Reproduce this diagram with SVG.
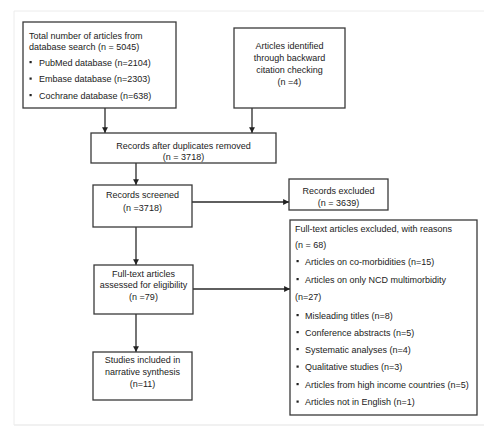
<svg xmlns="http://www.w3.org/2000/svg" width="500" height="437" viewBox="0 0 500 437">
<style>
.box{fill:#fff;stroke:#3a3a3a;stroke-width:1.3}
text{font-family:"Liberation Sans",Arial,sans-serif;font-size:9px;fill:#222}
.c{text-anchor:middle}
.ln{stroke:#2a2a2a;stroke-width:1.3;fill:none}
.b{fill:#222}
</style>
<defs>
<marker id="ar" viewBox="0 0 6 6" refX="6" refY="3" markerWidth="4.5" markerHeight="4.5" orient="auto">
<path d="M0,0 L6,3 L0,6 z" fill="#222"/>
</marker>
</defs>
<rect x="0" y="0" width="500" height="437" fill="#fff"/>
<path d="M14,425 L14,11 L484,11" fill="none" stroke="#ececec" stroke-width="1"/>
<path d="M14,425 L484,425" fill="none" stroke="#ececec" stroke-width="1.5"/>
<g id="connectors">
<line class="ln" x1="105" y1="108" x2="105" y2="133" marker-end="url(#ar)"/>
<line class="ln" x1="252" y1="108" x2="252" y2="133" marker-end="url(#ar)"/>
<line class="ln" x1="136" y1="163" x2="136" y2="185" marker-end="url(#ar)"/>
<line class="ln" x1="192" y1="202" x2="289" y2="202" marker-end="url(#ar)"/>
<line class="ln" x1="136" y1="227" x2="136" y2="265" marker-end="url(#ar)"/>
<line class="ln" x1="193" y1="289" x2="290" y2="289" marker-end="url(#ar)"/>
<line class="ln" x1="136" y1="314" x2="136" y2="352" marker-end="url(#ar)"/>
</g>
<g id="n1">
<rect class="box" x="23" y="22" width="153" height="86"/>
<text x="29" y="38.5">Total number of articles from</text>
<text x="29" y="50">database search (n = 5045)</text>
<rect class="b" x="29.5" y="61" width="2.2" height="2.2"/>
<text x="39" y="65.5">PubMed database (n=2104)</text>
<rect class="b" x="29.5" y="77.5" width="2.2" height="2.2"/>
<text x="39" y="82">Embase database (n=2303)</text>
<rect class="b" x="29.5" y="94" width="2.2" height="2.2"/>
<text x="39" y="98.5">Cochrane database (n=638)</text>
</g>
<g id="n2">
<rect class="box" x="234" y="28" width="111" height="80"/>
<text class="c" x="289.5" y="49">Articles identified</text>
<text class="c" x="289.5" y="61">through backward</text>
<text class="c" x="289.5" y="73">citation checking</text>
<text class="c" x="289.5" y="85">(n =4)</text>
</g>
<g id="n3">
<rect class="box" x="91" y="133" width="185" height="30"/>
<text class="c" x="183.5" y="149">Records after duplicates removed</text>
<text class="c" x="183.5" y="160">(n = 3718)</text>
</g>
<g id="n4">
<rect class="box" x="93" y="185" width="99" height="42"/>
<text class="c" x="142.5" y="198">Records screened</text>
<text class="c" x="142.5" y="211">(n =3718)</text>
</g>
<g id="n5">
<rect class="box" x="289" y="179" width="99" height="31"/>
<text class="c" x="338.5" y="194">Records excluded</text>
<text class="c" x="338.5" y="206">(n = 3639)</text>
</g>
<g id="n6">
<rect class="box" x="94" y="265" width="99" height="49"/>
<text class="c" x="143.5" y="276.5">Full-text articles</text>
<text class="c" x="143.5" y="288">assessed for eligibility</text>
<text class="c" x="143.5" y="299.5">(n =79)</text>
</g>
<g id="n7">
<rect class="box" x="290" y="220" width="187" height="195"/>
<text x="295" y="231.5">Full-text articles excluded, with reasons</text>
<text x="295" y="248">(n = 68)</text>
<rect class="b" x="296.5" y="260" width="2.2" height="2.2"/>
<text x="305" y="264.5">Articles on co-morbidities (n=15)</text>
<rect class="b" x="296.5" y="278" width="2.2" height="2.2"/>
<text x="305" y="282.5">Articles on only NCD multimorbidity</text>
<text x="295" y="300">(n=27)</text>
<rect class="b" x="296.5" y="314" width="2.2" height="2.2"/>
<text x="305" y="318.5">Misleading titles (n=8)</text>
<rect class="b" x="296.5" y="331" width="2.2" height="2.2"/>
<text x="305" y="335.5">Conference abstracts (n=5)</text>
<rect class="b" x="296.5" y="348" width="2.2" height="2.2"/>
<text x="305" y="352.5">Systematic analyses (n=4)</text>
<rect class="b" x="296.5" y="365.5" width="2.2" height="2.2"/>
<text x="305" y="370">Qualitative studies (n=3)</text>
<rect class="b" x="296.5" y="383" width="2.2" height="2.2"/>
<text x="305" y="387.5">Articles from high income countries (n=5)</text>
<rect class="b" x="296.5" y="400.5" width="2.2" height="2.2"/>
<text x="305" y="405">Articles not in English (n=1)</text>
</g>
<g id="n8">
<rect class="box" x="93" y="352" width="99" height="48"/>
<text class="c" x="142.5" y="362.5">Studies included in</text>
<text class="c" x="142.5" y="374.5">narrative synthesis</text>
<text class="c" x="142.5" y="386.5">(n=11)</text>
</g>
</svg>
